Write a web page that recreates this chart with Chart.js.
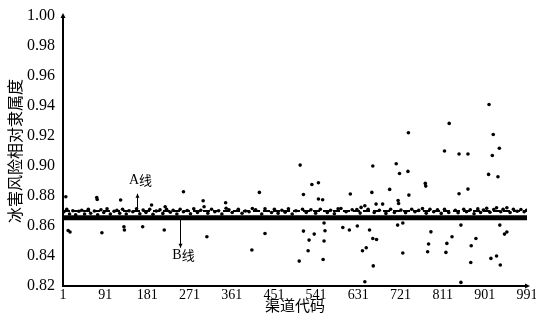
<!DOCTYPE html>
<html lang="zh">
<head>
    <meta charset="UTF-8">
    <title>冰害风险相对隶属度</title>
    <script src="https://cdn.jsdelivr.net/npm/chart.js@4/dist/chart.umd.min.js"></script>
    <style>
        html, body { margin: 0; padding: 0; background: #ffffff; }
        .chart-box { width: 536px; height: 320px; position: relative; }
    </style>
</head>
<body>
    <div class="chart-box"><canvas id="chart" width="536" height="320"></canvas></div>

    <script>
        // axis ticks
        const xTicks = [1, 91, 181, 271, 361, 451, 541, 631, 721, 811, 901, 991];
        const yTicks = [0.82, 0.84, 0.86, 0.88, 0.90, 0.92, 0.94, 0.96, 0.98, 1.00];

        // threshold lines
        const lineA = 0.870;
        const lineB = 0.8655;

        // channel codes and membership values
        const channelCode = [
            3, 9, 15, 22, 28, 35, 41, 47, 55, 60, 68, 75, 82, 88, 95, 102, 110, 116, 122, 128,
            136, 142, 150, 158, 165, 172, 178, 186, 193, 200, 208, 214, 222, 230, 236, 244, 251, 258, 266, 273,
            280, 288, 295, 310, 318, 325, 333, 340, 355, 362, 375, 383, 390, 398, 412, 425, 432, 446, 452, 460,
            468, 475, 482, 490, 498, 512, 520, 530, 540, 550, 565, 572, 580, 588, 605, 618, 635, 652, 665, 676,
            690, 700, 708, 722, 732, 745, 752, 760, 768, 776, 784, 792, 800, 808, 815, 824, 838, 844, 856, 862,
            870, 878, 886, 892, 898, 905, 912, 920, 926, 935, 940, 948, 955, 962, 970, 978, 985, 990,
            7, 12, 16, 73, 74, 84, 124, 131, 132, 171, 190, 217, 219, 258, 300, 302, 308, 348, 349,
            404, 405, 420, 432, 505, 507, 514, 514, 524, 526, 532, 537, 546, 546, 555, 556, 558, 558, 560,
            594, 598, 612, 614, 628, 629, 637, 640, 645, 645, 648, 655, 660, 662, 662, 663, 669, 670, 683,
            698, 712, 715, 716, 717, 719, 726, 726, 737, 738, 739, 774, 775, 779, 781, 786, 815, 818, 820,
            825, 831, 846, 846, 850, 850, 865, 865, 871, 872, 882, 909, 910, 914, 917, 919, 926, 929, 932,
            933, 934, 943, 948
        ];
        const membership = [
            0.8695, 0.8712, 0.868, 0.8702, 0.8675, 0.8698, 0.8705, 0.868, 0.8712, 0.8685, 0.870, 0.8675, 0.8708, 0.869, 0.8715, 0.868, 0.8698, 0.8704, 0.8685, 0.8712,
            0.868, 0.8702, 0.8695, 0.8715, 0.8682, 0.8706, 0.869, 0.8712, 0.8678, 0.870, 0.8708, 0.8684, 0.8712, 0.8692, 0.8705, 0.868, 0.8712, 0.8695, 0.8703, 0.8682,
            0.8715, 0.869, 0.8705, 0.8685, 0.8712, 0.8695, 0.8702, 0.868, 0.8708, 0.869, 0.8712, 0.8685, 0.870, 0.8695, 0.8708, 0.868, 0.8715, 0.869, 0.8712, 0.8685,
            0.8705, 0.8692, 0.8715, 0.868, 0.8702, 0.8712, 0.869, 0.8708, 0.8685, 0.8712, 0.869, 0.8705, 0.8682, 0.8715, 0.8695, 0.8708, 0.8686, 0.8712, 0.869, 0.8705,
            0.8684, 0.8712, 0.869, 0.8706, 0.8688, 0.8712, 0.8695, 0.8704, 0.8716, 0.8685, 0.8712, 0.8695, 0.8708, 0.8684, 0.8712, 0.869, 0.8705, 0.8688, 0.8712, 0.8695,
            0.8708, 0.8682, 0.8714, 0.869, 0.8706, 0.8718, 0.8692, 0.871, 0.8722, 0.8695, 0.8712, 0.8722, 0.869, 0.8712, 0.8698, 0.871, 0.8695, 0.8705,
            0.8795, 0.857, 0.856, 0.879, 0.8777, 0.8555, 0.8773, 0.8595, 0.8573, 0.8595, 0.874, 0.8573, 0.8728, 0.8828, 0.8768, 0.8728, 0.8528, 0.8755, 0.8718,
            0.844, 0.8717, 0.8824, 0.855, 0.8366, 0.9006, 0.881, 0.8566, 0.8435, 0.8506, 0.8877, 0.8546, 0.8888, 0.878, 0.8775, 0.8377, 0.862, 0.850, 0.8568,
            0.8717, 0.859, 0.8573, 0.8813, 0.871, 0.860, 0.8724, 0.8435, 0.8735, 0.8228, 0.8455, 0.8573, 0.8824, 0.900, 0.8517, 0.8334, 0.8746, 0.851, 0.8746,
            0.8844, 0.9015, 0.8606, 0.877, 0.875, 0.895, 0.862, 0.842, 0.8964, 0.9222, 0.8806, 0.8884, 0.8866, 0.8428, 0.848, 0.8561, 0.910, 0.8424, 0.8484,
            0.9284, 0.8528, 0.908, 0.8815, 0.8606, 0.8224, 0.908, 0.8846, 0.8357, 0.8468, 0.8517, 0.8944, 0.941, 0.8384, 0.907, 0.921, 0.840, 0.8928, 0.9118,
            0.8606, 0.834, 0.8546, 0.856
        ];

        // annotation anchors (channel code, value)
        const arrowA = { code: 159, from: lineA, to: 0.8815, text: 'A线', textAt: 0.8905 };
        const arrowB = { code: 251, from: lineB, to: 0.8455, text: 'B线', textAt: 0.8405 };

        const CJK = "'Noto Sans CJK SC', 'Noto Sans CJK JP', sans-serif";
        const SERIF = "'Liberation Serif', 'DejaVu Serif', serif";

        Chart.defaults.color = '#000';
        Chart.defaults.font.family = SERIF;

        function arrowHead(ctx, x, y, dir, size) {
            // dir: 'up' | 'down' | 'right'
            ctx.beginPath();
            if (dir === 'up') {
                ctx.moveTo(x, y); ctx.lineTo(x - size / 2, y + size); ctx.lineTo(x + size / 2, y + size);
            } else if (dir === 'down') {
                ctx.moveTo(x, y); ctx.lineTo(x - size / 2, y - size); ctx.lineTo(x + size / 2, y - size);
            } else {
                ctx.moveTo(x, y); ctx.lineTo(x - size, y - size / 2); ctx.lineTo(x - size, y + size / 2);
            }
            ctx.closePath();
            ctx.fill();
        }

        const annotations = {
            id: 'annotations',
            afterDraw(chart) {
                const { ctx, chartArea, scales: { x, y } } = chart;
                ctx.save();
                ctx.fillStyle = '#000';
                ctx.strokeStyle = '#000';

                // axis arrows
                arrowHead(ctx, chartArea.left, chartArea.top - 3, 'up', 5);
                arrowHead(ctx, chartArea.right + 3, chartArea.bottom, 'right', 5);

                ctx.lineWidth = 1;
                [arrowA, arrowB].forEach(a => {
                    const px = Math.round(x.getPixelForValue(a.code)) + 0.5;
                    const y0 = y.getPixelForValue(a.from);
                    const y1 = y.getPixelForValue(a.to);
                    ctx.beginPath();
                    ctx.moveTo(px, y0);
                    ctx.lineTo(px, y1);
                    ctx.stroke();
                    arrowHead(ctx, px, y1, y1 < y0 ? 'up' : 'down', 4);

                    ctx.textBaseline = 'middle';
                    const ty = y.getPixelForValue(a.textAt);
                    ctx.font = '14px ' + SERIF;
                    const letter = a.text[0];
                    const lw = ctx.measureText(letter).width;
                    ctx.font = '13px ' + CJK;
                    const cw = ctx.measureText(a.text.slice(1)).width;
                    const start = px + 3 - (lw + cw) / 2;
                    ctx.textAlign = 'left';
                    ctx.font = '14px ' + SERIF;
                    ctx.fillText(letter, start, ty);
                    ctx.font = '13px ' + CJK;
                    ctx.fillText(a.text.slice(1), start + lw, ty);
                });
                ctx.restore();
            }
        };

        const points = channelCode.map((c, i) => ({ x: c, y: membership[i] }));

        new Chart(document.getElementById('chart'), {
            type: 'scatter',
            data: {
                datasets: [
                    {
                        label: 'B线',
                        type: 'line',
                        data: [{ x: xTicks[0], y: lineB }, { x: xTicks[xTicks.length - 1], y: lineB }],
                        borderColor: '#000',
                        borderWidth: 5,
                        pointRadius: 0
                    },
                    {
                        label: 'A线',
                        type: 'line',
                        data: [{ x: xTicks[0], y: lineA }, { x: xTicks[xTicks.length - 1], y: lineA }],
                        borderColor: '#000',
                        borderWidth: 2,
                        borderDash: [7, 3],
                        pointRadius: 0
                    },
                    {
                        label: '冰害风险相对隶属度',
                        data: points,
                        backgroundColor: '#000',
                        borderColor: '#000',
                        pointRadius: 1.8,
                        borderWidth: 0
                    }
                ]
            },
            options: {
                responsive: false,
                animation: false,
                layout: { padding: { top: 16, right: 9, left: 0, bottom: 0 } },
                plugins: {
                    legend: { display: false },
                    tooltip: { enabled: false }
                },
                scales: {
                    x: {
                        type: 'linear',
                        min: xTicks[0],
                        max: xTicks[xTicks.length - 1],
                        afterBuildTicks: s => { s.ticks = xTicks.map(v => ({ value: v })); },
                        afterFit: s => { s.height = 34; s.paddingLeft = 0; s.paddingRight = 0; },
                        grid: { display: false, drawTicks: false },
                        border: { display: true, color: '#000', width: 2 },
                        ticks: {
                            autoSkip: false,
                            maxRotation: 0,
                            padding: 1,
                            font: { size: 14, family: SERIF }
                        },
                        title: {
                            display: true,
                            text: '渠道代码',
                            font: { size: 15, family: CJK },
                            padding: { top: 0, bottom: 6 }
                        }
                    },
                    y: {
                        min: yTicks[0],
                        max: yTicks[yTicks.length - 1],
                        afterBuildTicks: s => { s.ticks = yTicks.map(v => ({ value: v })); },
                        afterFit: s => { s.width = 63; s.paddingTop = 0; s.paddingBottom = 0; },
                        grid: { display: false, drawTicks: false },
                        border: { display: true, color: '#000', width: 2 },
                        ticks: {
                            autoSkip: false,
                            padding: 8,
                            font: { size: 16, family: SERIF },
                            callback: v => v.toFixed(2)
                        },
                        title: {
                            display: true,
                            text: '冰害风险相对隶属度',
                            font: { size: 16, family: CJK },
                            padding: { top: 5, bottom: 0 }
                        }
                    }
                }
            },
            plugins: [annotations]
        });
    </script>
</body>
</html>
